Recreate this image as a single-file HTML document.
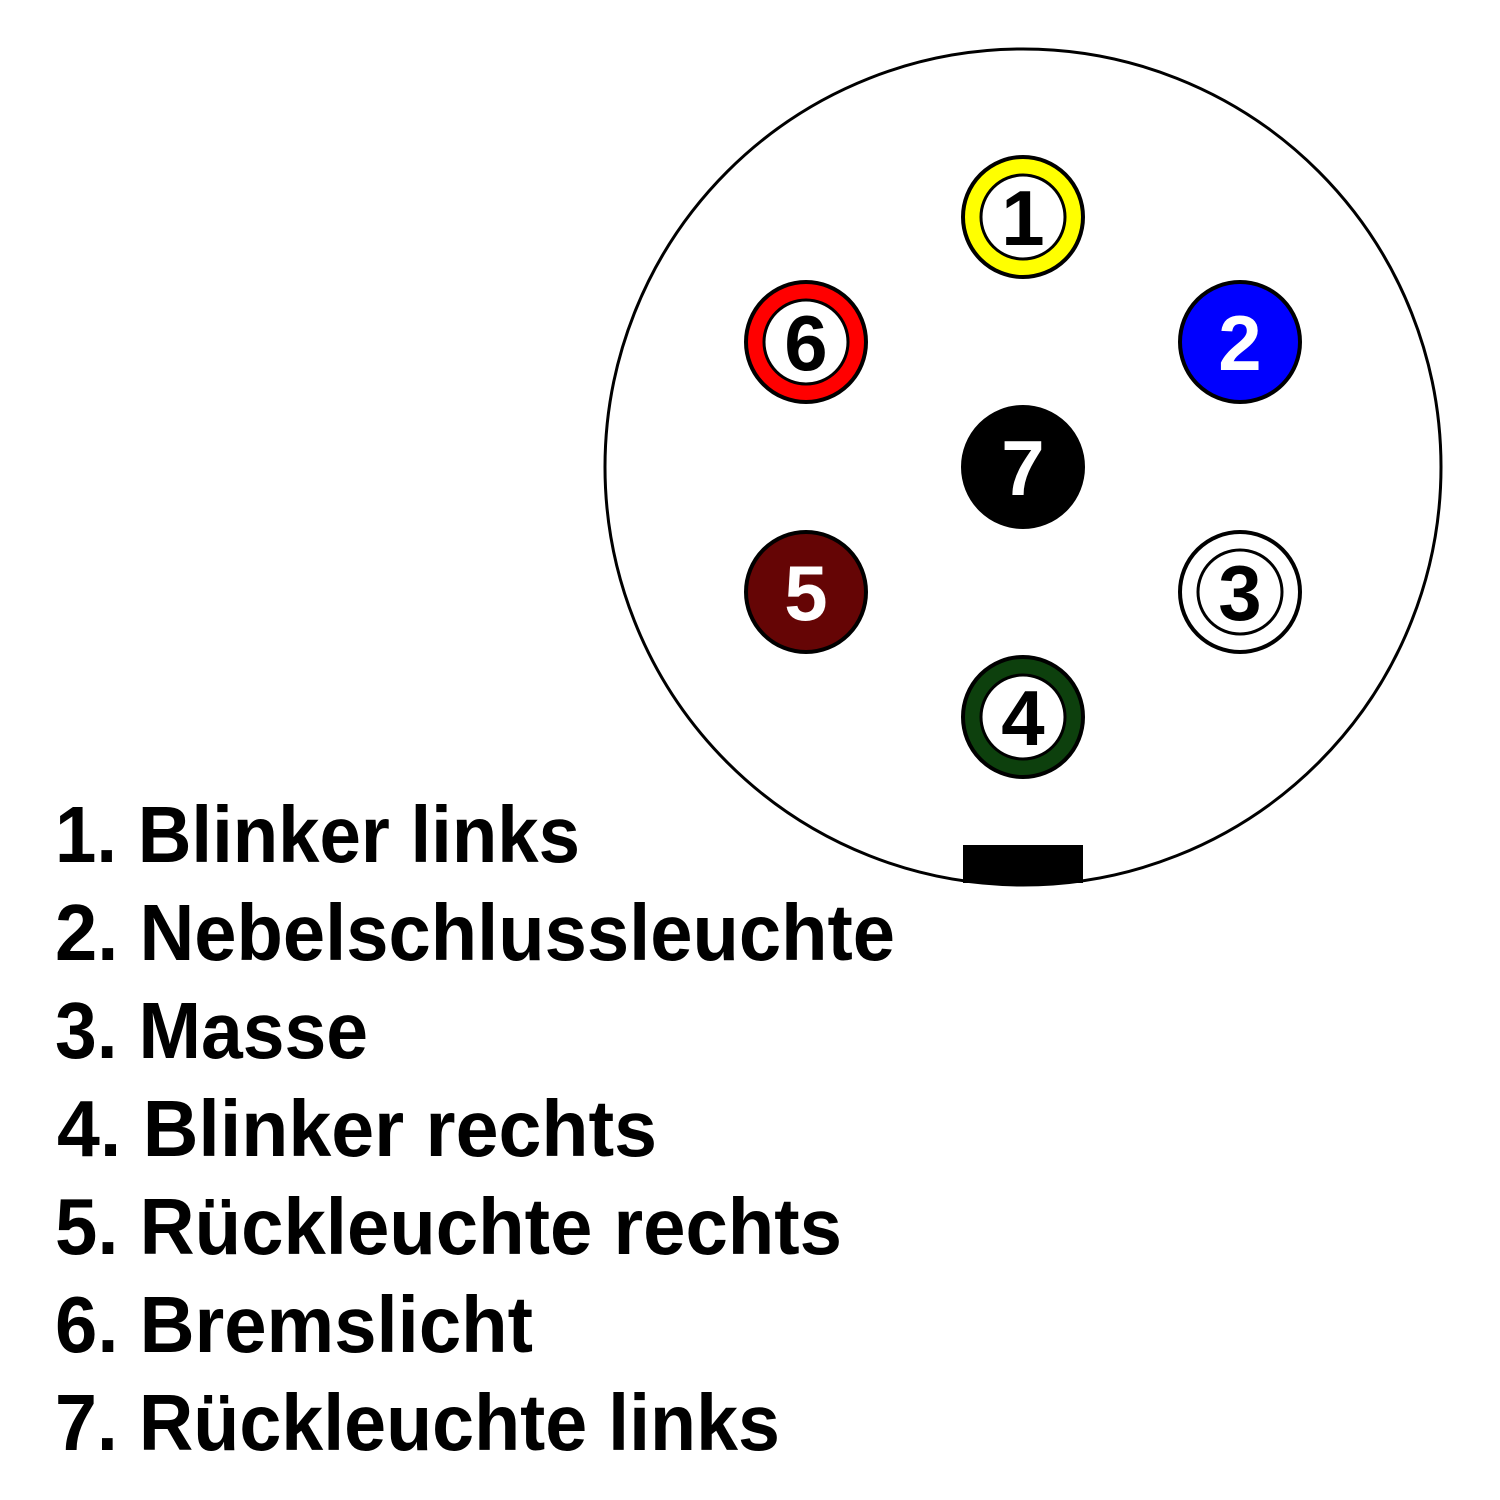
<!DOCTYPE html>
<html><head><meta charset="utf-8"><style>
html,body{margin:0;padding:0;background:#fff;}
svg{display:block;}
</style></head><body>
<svg width="1500" height="1500" viewBox="0 0 1500 1500" xmlns="http://www.w3.org/2000/svg">
<rect width="1500" height="1500" fill="#fff"/>
<circle cx="1023" cy="467" r="418" fill="#fff" stroke="#000" stroke-width="3"/>
<rect x="963" y="845" width="120" height="38" fill="#000"/>
<path d="M963 880 Q1023 890 1083 880 L1083 870 L963 870 Z" fill="#000"/>
<g font-family="Liberation Sans, sans-serif" font-weight="bold" font-size="78" text-anchor="middle">
 <circle cx="1023" cy="217" r="60" fill="#ffff00" stroke="#000" stroke-width="4"/>
 <circle cx="1023" cy="217" r="42" fill="#fff" stroke="#000" stroke-width="3"/>
 <text x="1023" y="245" fill="#000">1</text>
 <circle cx="1240" cy="342" r="60" fill="#0000ff" stroke="#000" stroke-width="4"/>
 <text x="1240" y="370" fill="#fff">2</text>
 <circle cx="806" cy="342" r="60" fill="#ff0000" stroke="#000" stroke-width="4"/>
 <circle cx="806" cy="342" r="42" fill="#fff" stroke="#000" stroke-width="3"/>
 <text x="806" y="370" fill="#000">6</text>
 <circle cx="1023" cy="467" r="60" fill="#000" stroke="#000" stroke-width="4"/>
 <text x="1023" y="495" fill="#fff">7</text>
 <circle cx="806" cy="592" r="60" fill="#650505" stroke="#000" stroke-width="4"/>
 <text x="806" y="620" fill="#fff">5</text>
 <circle cx="1240" cy="592" r="60" fill="#fff" stroke="#000" stroke-width="4"/>
 <circle cx="1240" cy="592" r="42" fill="#fff" stroke="#000" stroke-width="3"/>
 <text x="1240" y="620" fill="#000">3</text>
 <circle cx="1023" cy="717" r="60" fill="#0d400d" stroke="#000" stroke-width="4"/>
 <circle cx="1023" cy="717" r="42" fill="#fff" stroke="#000" stroke-width="3"/>
 <text x="1023" y="745" fill="#000">4</text>
</g>
<g font-family="Liberation Sans, sans-serif" font-weight="bold" font-size="80" fill="#000">
 <text x="55" y="862" textLength="525" lengthAdjust="spacingAndGlyphs">1. Blinker links</text>
 <text x="55" y="960" textLength="840" lengthAdjust="spacingAndGlyphs">2. Nebelschlussleuchte</text>
 <text x="55" y="1058" textLength="313" lengthAdjust="spacingAndGlyphs">3. Masse</text>
 <text x="57" y="1156" textLength="600" lengthAdjust="spacingAndGlyphs">4. Blinker rechts</text>
 <text x="55" y="1254" textLength="787" lengthAdjust="spacingAndGlyphs">5. Rückleuchte rechts</text>
 <text x="55" y="1352" textLength="478" lengthAdjust="spacingAndGlyphs">6. Bremslicht</text>
 <text x="55" y="1450" textLength="725" lengthAdjust="spacingAndGlyphs">7. Rückleuchte links</text>
</g>
</svg>
</body></html>
